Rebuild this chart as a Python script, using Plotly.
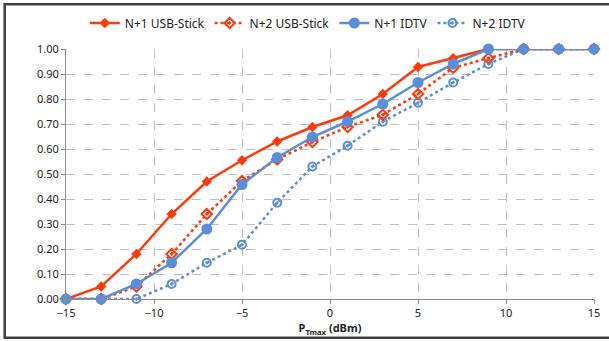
import plotly.graph_objects as go

x_dbm = [-15, -13, -11, -9, -7, -5, -3, -1, 1, 3, 5, 7, 9, 11, 13, 15]
n1_usb = [0.00, 0.05, 0.18, 0.34, 0.47, 0.555, 0.63, 0.688, 0.735, 0.82, 0.928, 0.963, 1.00, 1.00, 1.00, 1.00]
n2_usb = [0.00, 0.00, 0.05, 0.18, 0.34, 0.472, 0.558, 0.628, 0.688, 0.737, 0.82, 0.925, 0.963, 1.00, 1.00, 1.00]
n1_idtv = [0.00, 0.00, 0.06, 0.145, 0.28, 0.458, 0.566, 0.648, 0.71, 0.78, 0.866, 0.94, 1.00, 1.00, 1.00, 1.00]
n2_idtv = [0.00, 0.00, 0.00, 0.06, 0.145, 0.217, 0.385, 0.53, 0.613, 0.709, 0.785, 0.866, 0.94, 1.00, 1.00, 1.00]

RED = "#FF3A0A"
BLUE = "#5A8ED8"
FONT = "Noto Sans"

fig = go.Figure()
# drawing order: dotted series below, N+1 IDTV on top; legend order via legendrank
fig.add_trace(go.Scatter(x=x_dbm, y=n2_idtv, name="N+2 IDTV", mode="lines+markers", legendrank=4,
                         line=dict(color=BLUE, width=2.5, dash="dot"),
                         marker=dict(symbol="circle-open-dot", size=8, color=BLUE, line=dict(width=2, color=BLUE)),
                         cliponaxis=False))
fig.add_trace(go.Scatter(x=x_dbm, y=n2_usb, name="N+2 USB-Stick", mode="lines+markers", legendrank=2,
                         line=dict(color=RED, width=2.5, dash="dot"),
                         marker=dict(symbol="diamond-open-dot", size=8, color=RED, line=dict(width=2, color=RED)),
                         cliponaxis=False))
fig.add_trace(go.Scatter(x=x_dbm, y=n1_usb, name="N+1 USB-Stick", mode="lines+markers", legendrank=1,
                         line=dict(color=RED, width=2.5),
                         marker=dict(symbol="diamond", size=8, color=RED), cliponaxis=False))
fig.add_trace(go.Scatter(x=x_dbm, y=n1_idtv, name="N+1 IDTV", mode="lines+markers", legendrank=3,
                         line=dict(color=BLUE, width=2.5),
                         marker=dict(symbol="circle", size=11, color=BLUE), cliponaxis=False))

fig.update_layout(
    width=609, height=341,
    margin=dict(l=66, r=9, t=48, b=42),
    paper_bgcolor="white", plot_bgcolor="white",
    font=dict(family=FONT, size=11, color="#222222"),
    showlegend=True,
    hovermode=False,
    legend=dict(orientation="h", x=0.458, xanchor="center", y=1.104, yanchor="middle",
                font=dict(family=FONT, size=12, color="#222222"), itemwidth=30,
                bgcolor="rgba(0,0,0,0)", tracegroupgap=0, traceorder="normal"),
    xaxis=dict(range=[-15, 15], tickvals=[-15, -10, -5, 0, 5, 10, 15],
               showgrid=True, gridcolor="#BFBFBF", griddash="dash", gridwidth=1,
               showline=True, linecolor="#8C8C8C", linewidth=1,
               ticks="outside", ticklen=4, tickcolor="#8C8C8C",
               zeroline=False, tickfont=dict(size=11),
               title=dict(text="<b>P<sub>Tmax</sub> (dBm)</b>", font=dict(size=11), standoff=4)),
    yaxis=dict(range=[0, 1], dtick=0.1, tickformat=".2f",
               showgrid=True, gridcolor="#BFBFBF", griddash="dash", gridwidth=1,
               showline=True, linecolor="#8C8C8C", linewidth=1,
               ticks="outside", ticklen=4, tickcolor="#8C8C8C",
               zeroline=False, tickfont=dict(size=11)),
    shapes=[
        dict(type="rect", xref="paper", yref="paper",
             x0=-0.1161, x1=1.06, y0=-0.1554, y1=1.1793,
             line=dict(color="#404040", width=2.5), fillcolor="rgba(0,0,0,0)", layer="below")
    ],
)

fig.write_html("out.html", config={"displayModeBar": False},
               post_script="document.body.style.margin='0';document.body.style.padding='0';")
